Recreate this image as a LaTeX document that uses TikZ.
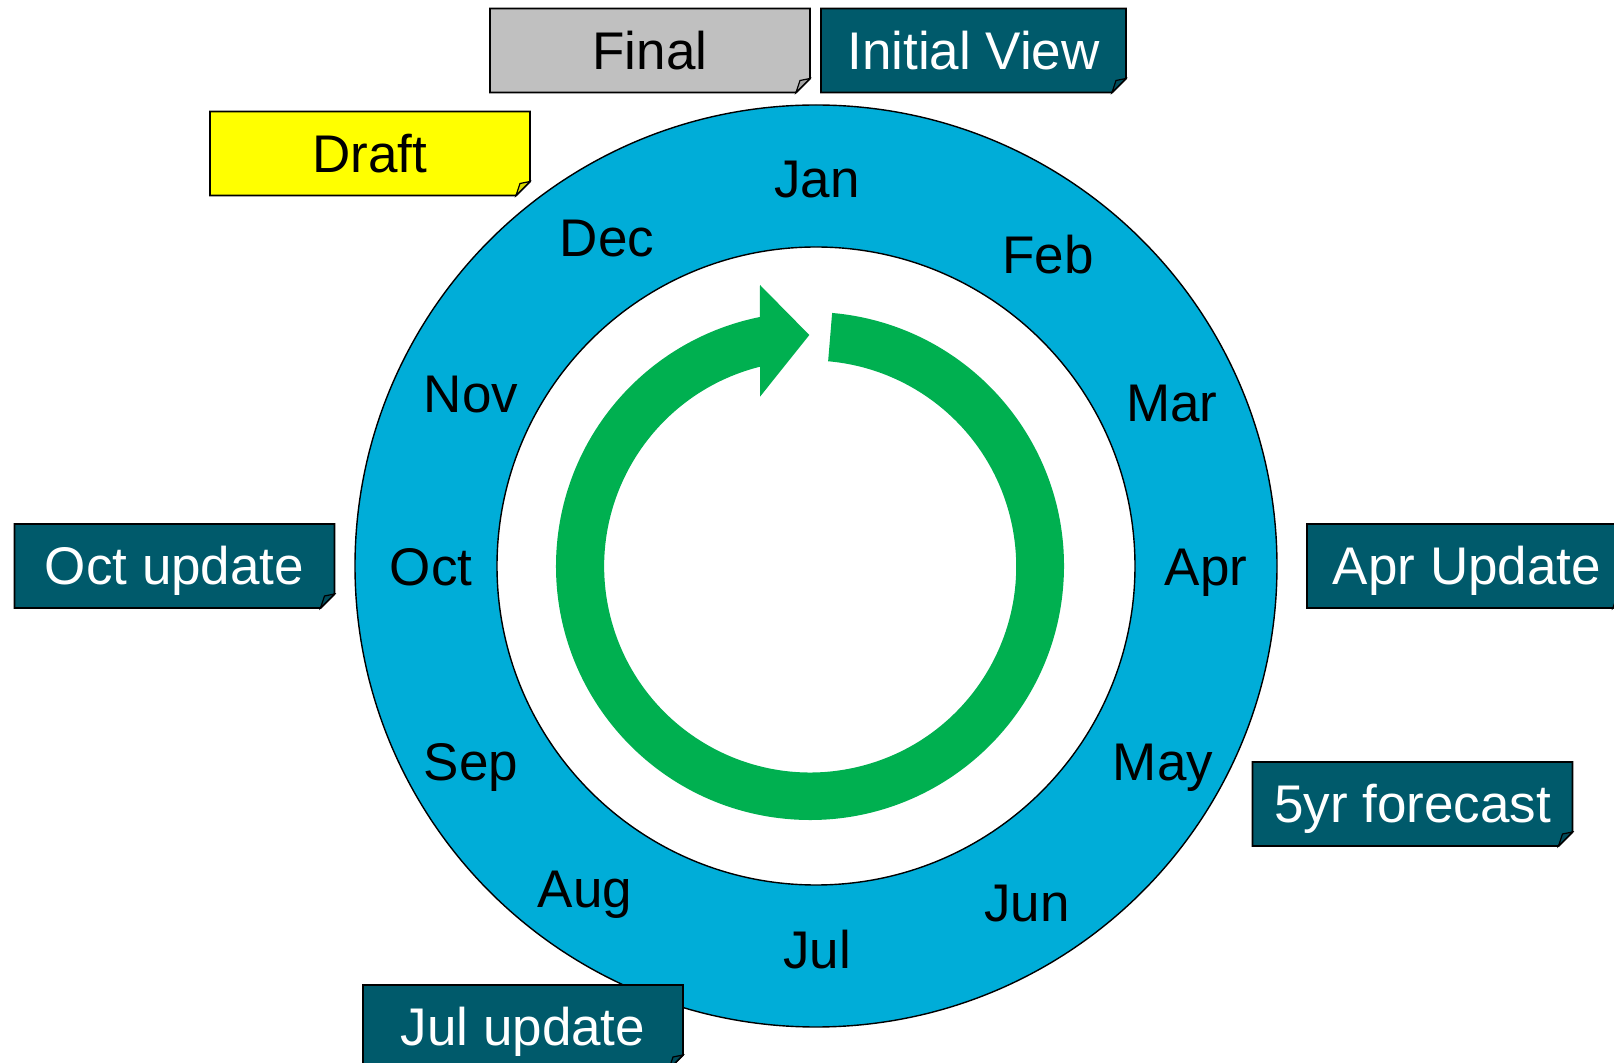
\documentclass[tikz,border=0pt]{standalone}
\usepackage{fontspec}
\setmainfont{Liberation Sans}
\definecolor{ringblue}{HTML}{00ADD8}
\definecolor{arrowgreen}{HTML}{00B050}
\definecolor{teal}{HTML}{005A6B}
\definecolor{finalgray}{HTML}{C0C0C0}
\definecolor{draftyellow}{HTML}{FFFF00}
\tikzset{
  lbl/.style={font=\fontsize{26.5pt}{30pt}\selectfont, inner sep=0pt, text height=19pt, text depth=0pt},
  boxline/.style={draw=black, line width=0.9pt, line join=miter},
  ringline/.style={draw=black, line width=0.7pt}
}
\newcommand\notebox[6]{%
  \begin{scope}[shift={(#2)}]
    \filldraw[boxline, fill=#4] (-#3,-42) -- (#3,-42) -- (#3,28) -- ({#3-14},42) -- (-#3,42) -- cycle;
    \filldraw[boxline, line width=0.6pt, fill=#4!85!black] ({#3-14},42) -- ({#3-10},30) -- (#3,28) -- cycle;
  \end{scope}
  \node[lbl, text=#5] (#1) at (#2) {#6};
}
\begin{document}
\begin{tikzpicture}[x=0.5pt,y=-0.5pt]
\clip (0,0) rectangle (1614,1063);
\fill[white] (0,0) rectangle (1614,1063);
% ring
\node[circle, ringline, fill=ringblue, minimum size=461pt, inner sep=0pt] (ring) at (816,566) {};
\node[circle, ringline, fill=white, minimum size=319pt, inner sep=0pt] (hole) at (816,566) {};
% green circular arrow
\begin{scope}[shift={(810,566)}]
  \fill[arrowgreen] (-85:254) arc[start angle=-85, end angle=258.6, radius=254]
    -- (-50,-281) -- (-0.7,-231) -- (-50,-169.3) -- (-50,-199.3)
    arc[start angle=255.9, end angle=-85, radius=206] -- cycle;
\end{scope}
% months
\node[lbl] (jan) at (817,179) {Jan};
\node[lbl] (feb) at (1048,255) {Feb};
\node[lbl] (mar) at (1172,403) {Mar};
\node[lbl] (apr) at (1206,567) {Apr};
\node[lbl] (may) at (1163,762) {May};
\node[lbl] (jun) at (1027,903) {Jun};
\node[lbl] (jul) at (817,950) {Jul};
\node[lbl] (aug) at (585,889) {Aug};
\node[lbl] (sep) at (471,762) {Sep};
\node[lbl] (oct) at (431,567) {Oct};
\node[lbl] (nov) at (471,394) {Nov};
\node[lbl] (dec) at (607,238) {Dec};
% boxes
\notebox{final}{650,50.5}{160}{finalgray}{black}{Final}
\notebox{initial}{973.5,50.5}{152.5}{teal}{white}{Initial View}
\notebox{draft}{370,153.5}{160}{draftyellow}{black}{Draft}
\notebox{octupd}{174.5,566}{160}{teal}{white}{Oct update}
\notebox{aprupd}{1467,566}{160}{teal}{white}{Apr Update}
\notebox{fiveyr}{1412.5,804}{160}{teal}{white}{5yr forecast}
\notebox{julupd}{523,1027}{160}{teal}{white}{Jul update}
\end{tikzpicture}
\end{document}
